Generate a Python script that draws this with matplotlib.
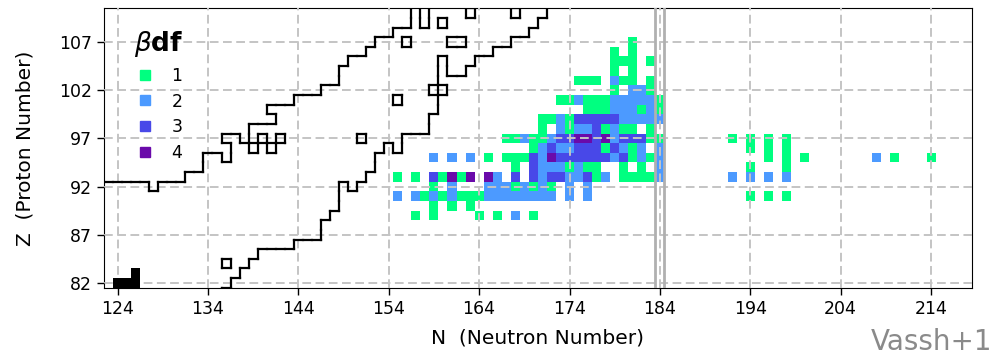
import numpy as np
import matplotlib
matplotlib.use("Agg")
import matplotlib.pyplot as plt
from matplotlib.colors import ListedColormap, BoundaryNorm
from matplotlib.collections import LineCollection
from matplotlib.lines import Line2D

# ---- beta-delayed fission multiplicity (1-4) per nucleus --------------------
# each row covers N = 154 ... 184 in groups of five (spaces are only separators)
bdf_n0 = 154
bdf_z = [107, 106, 105, 104, 103, 102, 101, 100, 99, 98, 97, 96, 95, 94, 93, 92, 91, 90, 89]
bdf_rows = [
    "..... ..... ..... ..... ..... ..1.. .",   # 107
    "..... ..... ..... ..... ..... 1.1.. .",   # 106
    "..... ..... ..... ..... ..... 111.1 .",   # 105
    "..... ..... ..... ..... ..... 1.1.. .",   # 104
    "..... ..... ..... ..... .111. 211.1 .",   # 103
    "..... ..... ..... ..... ..... 1.221 .",   # 102
    "..... ..... ..... ....1 12111 22222 1",   # 101
    "..... ..... ..... ..... ..111 22212 1",   # 100
    "..... ..... ..... ..112 13333 32222 2",   # 99
    "..... ..... ..... ..1.2 12231 211.1 .",   # 98
    "..... ..... ...11 21123 34434 23331 1",   # 97
    "..... ..... ..... .1232 23331 3212. 2",   # 96
    "..... 2.2.2 .1.11 13243 33333 23121 2",   # 95
    "..... ..... ....1 .3222 1211. .1.1. 2",   # 94
    ".1.1. 31414 .42.3 .3233 22312 .1111 2",   # 93
    "..... 1.2.. .2221 2121. 2.2.. ..... .",   # 92
    ".2.21 21211 12222 2222. 2.2.. ..... .",   # 91
    "..... 1.1.1 ..... ..... ..... ..... .",   # 90
    "...1. 1.... 1.1.2 .1... ..... ..... .",   # 89
]
# isolated cells on the far neutron-rich side
far_n = [192, 192, 194, 194, 194, 194, 194, 196, 196, 196, 196, 196,
         198, 198, 198, 198, 198, 198, 200, 208, 210, 214]
far_z = [97, 93, 97, 96, 94, 93, 91, 97, 96, 95, 93, 91,
         97, 96, 95, 94, 93, 91, 95, 95, 95, 95]
far_v = [1, 2, 1, 1, 1, 2, 1, 1, 1, 1, 2, 1,
         1, 1, 1, 1, 2, 1, 1, 2, 1, 1]

# ---- region of known nuclei: Z range per N, plus holes and detached cells ---
known_n = list(range(122, 173))
known_zlo = [70] * 14 + [82, 83, 84, 85, 86, 86, 86, 86, 87, 87, 87, 89, 90, 93, 92,
                         93, 94, 96, 97, 96, 98, 98, 98, 100, 106, 104, 104, 105, 106,
                         106, 107, 107, 108, 108, 109, 110, 116]
known_zhi = [92, 92, 92, 92, 92, 92, 91, 92, 92, 92, 93, 93, 95, 95,
             94, 97, 96, 98, 98, 98, 100, 100, 101, 101, 101, 102, 102, 104, 105,
             105, 106, 107, 107, 108, 108, 115, 108, 115, 115, 115, 115, 115, 115,
             115, 115, 115, 115, 115, 115, 115, 115]
known_holes = [(136, 84), (139, 96), (141, 96), (140, 97), (142, 97), (151, 97),
               (155, 101), (156, 107), (159, 102), (160, 109),
               (161, 107), (162, 107), (163, 110), (168, 110)]
known_extra = [(136, 97), (141, 100), (160, 102)]

# stable nuclei
stable_n = [124, 125, 126, 126]
stable_z = [82, 82, 82, 83]

colors = ["#00ff80", "#4c9aff", "#4848e8", "#6a0aaa"]
labels = ["1", "2", "3", "4"]

fig = plt.figure(figsize=(9.89, 3.54), dpi=100)
ax = fig.add_axes([0.1052, 0.1873, 0.8773, 0.7893])

# colour cells
n_edges = np.arange(153.5, 215.5 + 1)
z_edges = np.arange(88.5, 107.5 + 1)
grid = np.full((len(z_edges) - 1, len(n_edges) - 1), np.nan)
for z, row in zip(bdf_z, bdf_rows):
    for i, ch in enumerate(row.replace(" ", "")):
        if ch.isdigit():
            grid[z - 89, bdf_n0 + i - 154] = int(ch)
for n, z, v in zip(far_n, far_z, far_v):
    grid[z - 89, n - 154] = v
cmap = ListedColormap(colors)
norm = BoundaryNorm([0.5, 1.5, 2.5, 3.5, 4.5], cmap.N)
ax.pcolormesh(n_edges, z_edges, np.ma.masked_invalid(grid), cmap=cmap, norm=norm,
              shading="flat", antialiased=False, zorder=1)

# outline of the known region
known = set()
for n, lo, hi in zip(known_n, known_zlo, known_zhi):
    for z in range(lo, hi + 1):
        known.add((n, z))
known -= set(known_holes)
known |= set(known_extra)
segs = []
for (n, z) in known:
    if (n - 1, z) not in known:
        segs.append([(n - 0.5, z - 0.5), (n - 0.5, z + 0.5)])
    if (n + 1, z) not in known:
        segs.append([(n + 0.5, z - 0.5), (n + 0.5, z + 0.5)])
    if (n, z - 1) not in known:
        segs.append([(n - 0.5, z - 0.5), (n + 0.5, z - 0.5)])
    if (n, z + 1) not in known:
        segs.append([(n - 0.5, z + 0.5), (n + 0.5, z + 0.5)])
ax.add_collection(LineCollection(segs, colors="black", linewidths=1.6,
                                 capstyle="projecting", zorder=3))

# stable nuclei as filled black cells
for n, z in zip(stable_n, stable_z):
    ax.add_patch(plt.Rectangle((n - 0.5, z - 0.5), 1, 1, color="black", lw=0, zorder=3))

# N = 184 shell closure
for x in (183.5, 184.5):
    ax.axvline(x, color="#b0b0b0", lw=2, zorder=4)

ax.set_xlim(122.5, 218.5)
ax.set_ylim(81.5, 110.5)
ax.set_xticks(np.arange(124, 215, 10))
ax.set_yticks(np.arange(82, 108, 5))
ax.tick_params(labelsize=12.5, length=5, width=1)
ax.grid(True, ls=(0, (4.5, 2.3)), color="#c4c4c4", lw=1.4, zorder=5)
ax.set_axisbelow(False)
ax.set_xlabel("N  (Neutron Number)", fontsize=14.5, labelpad=8)
ax.set_ylabel("Z  (Proton Number)", fontsize=14.5, labelpad=18)

handles = [Line2D([], [], marker="s", ls="", color=c, markersize=7) for c in colors]
leg = ax.legend(handles, labels, title=r"$\beta$df", loc="upper left",
                bbox_to_anchor=(0.017, 0.982), frameon=False, fontsize=12.5,
                handlelength=1.0, handletextpad=1.05, labelspacing=0.45,
                title_fontproperties={"weight": "bold", "size": 19})
leg.set_zorder(6)

fig.text(871 / 989, 1 - 350 / 354, "Vassh+19", color="#8a8a8a", fontsize=20,
         ha="left", va="baseline")

fig.savefig("out.png", dpi=100)
